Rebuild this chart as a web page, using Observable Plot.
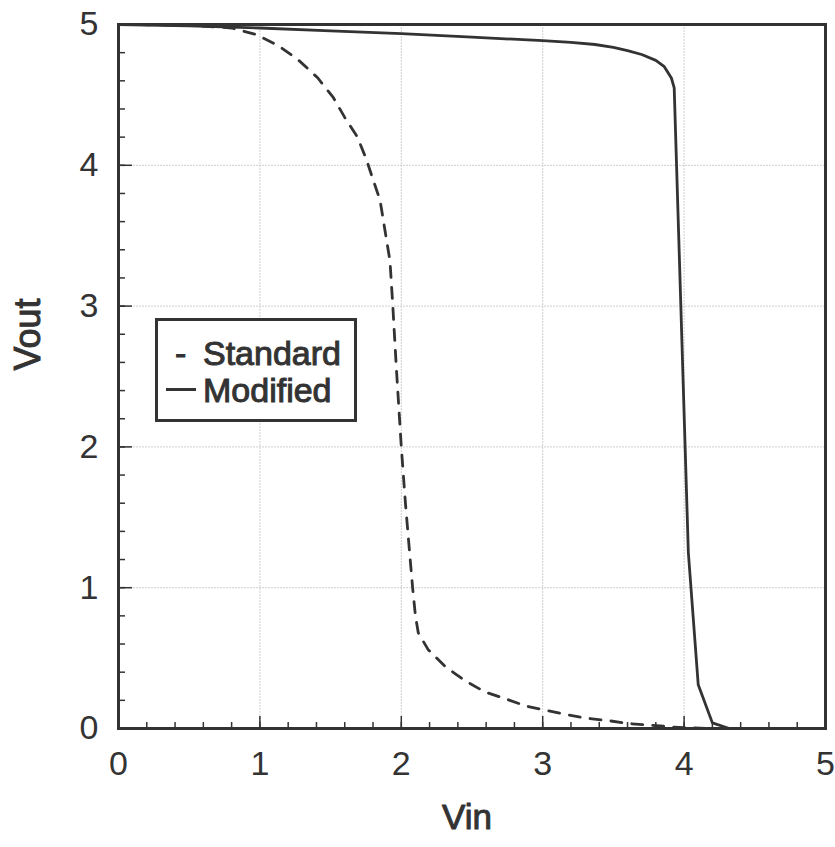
<!DOCTYPE html>
<html>
<head>
<meta charset="utf-8">
<script src="https://cdn.jsdelivr.net/npm/d3@7"></script>
<script src="https://cdn.jsdelivr.net/npm/@observablehq/plot@0.6"></script>
<style>
  html, body { margin: 0; padding: 0; background: #fff; }
  #wrap { position: relative; width: 835px; height: 847px; }
  #legend {
    position: absolute; left: 155px; top: 318px; width: 196px; height: 98px;
    border: 3px solid #333; background: #fff;
    font-family: "Liberation Sans", Arial, sans-serif; font-size: 34px; color: #333;
    -webkit-text-stroke: 1px #333;
  }
  #legend span { position: absolute; line-height: 1; white-space: nowrap; }
</style>
</head>
<body>
<div id="wrap"></div>
<script>
// Standard inverter (dashed)
const vinStandard  = [0, 0.5, 0.8, 0.97, 1.13, 1.27, 1.41, 1.52, 1.6, 1.69, 1.75, 1.85, 1.92, 1.94, 1.965, 2.0, 2.03, 2.08, 2.1, 2.12, 2.19, 2.31, 2.45, 2.59, 2.74, 2.88, 3.02, 3.16, 3.3, 3.47, 3.61, 3.75, 3.9, 4.0, 4.2];
const voutStandard = [5, 4.995, 4.975, 4.93, 4.85, 4.75, 4.62, 4.48, 4.34, 4.2, 4.05, 3.75, 3.32, 3.0, 2.56, 2.0, 1.59, 1.0, 0.8, 0.68, 0.56, 0.44, 0.34, 0.26, 0.21, 0.16, 0.13, 0.1, 0.075, 0.055, 0.035, 0.025, 0.012, 0.006, 0];
// Modified inverter (solid)
const vinModified  = [0, 0.5, 1, 1.5, 2, 2.5, 3, 3.2, 3.37, 3.5, 3.6, 3.7, 3.8, 3.86, 3.91, 3.93, 4.03, 4.1, 4.2, 4.32, 5];
const voutModified = [5, 4.99, 4.975, 4.955, 4.935, 4.91, 4.885, 4.873, 4.858, 4.838, 4.815, 4.787, 4.745, 4.7, 4.62, 4.55, 1.25, 0.31, 0.04, 0, 0];

const majorTicks = [0, 1, 2, 3, 4, 5];
const gridTicks = [1, 2, 3, 4];
const minorTicks = d3.range(0, 26).map(i => i / 5);
const xLabel = "Vin";
const yLabel = "Vout";
const legendLabels = ["Standard", "Modified"];

const standard = vinStandard.map((v, i) => ({vin: v, vout: voutStandard[i]}));
const modified = vinModified.map((v, i) => ({vin: v, vout: voutModified[i]}));

const ink = "#333";
const font = "Liberation Sans, Arial, sans-serif";

const chart = Plot.plot({
  width: 835,
  height: 847,
  marginLeft: 118,
  marginRight: 10,
  marginTop: 24,
  marginBottom: 119,
  style: {fontFamily: font, color: ink, background: "#fff", overflow: "visible"},
  x: {domain: [0, 5]},
  y: {domain: [0, 5]},
  marks: [
    Plot.gridX(gridTicks, {stroke: "#cfcfcf", strokeOpacity: 1, strokeWidth: 1, strokeDasharray: "2,1"}),
    Plot.gridY(gridTicks, {stroke: "#cfcfcf", strokeOpacity: 1, strokeWidth: 1, strokeDasharray: "2,1"}),
    // inward minor ticks
    Plot.axisX({ticks: minorTicks, tickSize: -6, text: null, label: null, stroke: ink, strokeWidth: 1.5}),
    Plot.axisY({ticks: minorTicks, tickSize: -7, text: null, label: null, stroke: ink, strokeWidth: 1.5}),
    // inward major ticks
    Plot.axisX({ticks: majorTicks, tickSize: -12, text: null, label: null, stroke: ink, strokeWidth: 1.5}),
    Plot.axisY({ticks: majorTicks, tickSize: -14, text: null, label: null, stroke: ink, strokeWidth: 1.5}),
    // tick labels
    Plot.axisX({ticks: majorTicks, tickSize: 0, tickPadding: 22, label: null, fontSize: 34, fill: ink, stroke: ink, strokeWidth: 1.1, tickFormat: d3.format("d")}),
    Plot.axisY({ticks: majorTicks, tickSize: 0, tickPadding: 20, label: null, fontSize: 34, fill: ink, stroke: ink, strokeWidth: 1.1, tickFormat: d3.format("d")}),
    Plot.line(standard, {x: "vin", y: "vout", stroke: ink, strokeWidth: 2.8, strokeDasharray: "11,10"}),
    Plot.line(modified, {x: "vin", y: "vout", stroke: ink, strokeWidth: 2.8}),
    Plot.frame({stroke: ink, strokeWidth: 3}),
    Plot.text([xLabel], {frameAnchor: "bottom", dy: 100, dx: -5, fontSize: 35, fill: ink, stroke: ink, strokeWidth: 1}),
    Plot.text([yLabel], {frameAnchor: "left", dx: -90, dy: -6, rotate: -90, fontSize: 36, fill: ink, stroke: ink, strokeWidth: 1})
  ]
});

const wrap = document.getElementById("wrap");
wrap.appendChild(chart);

// legend (drawn inside the plot area, as in the original)
const legend = document.createElement("div");
legend.id = "legend";
legend.innerHTML =
  `<span style="left:17px; top:15px;">-</span>` +
  `<span style="left:45px; top:15px;">${legendLabels[0]}</span>` +
  `<span style="left:8px; top:67px; width:30px; height:0; border-top:3px solid #333;"></span>` +
  `<span style="left:45px; top:52px;">${legendLabels[1]}</span>`;
wrap.appendChild(legend);
</script>
</body>
</html>
